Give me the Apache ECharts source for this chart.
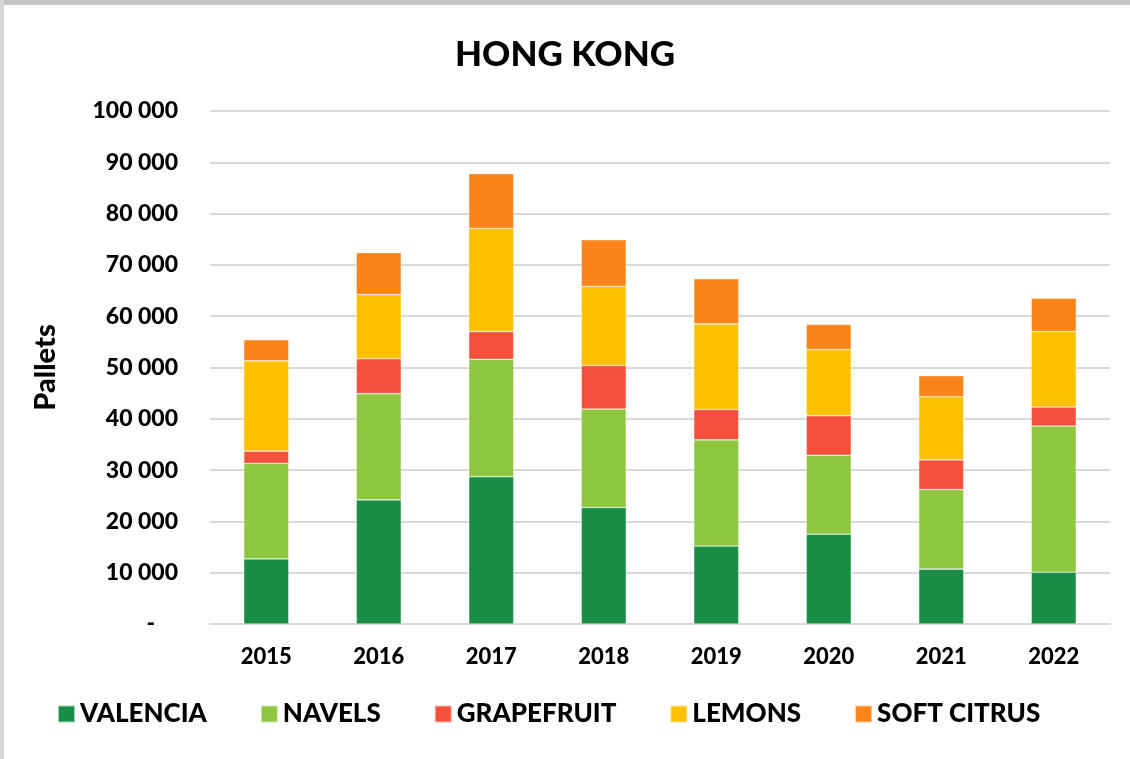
<!DOCTYPE html>
<html>
<head>
<meta charset="utf-8">
<script src="https://cdn.jsdelivr.net/npm/echarts@6/dist/echarts.min.js"></script>
<style>
  html, body { margin: 0; padding: 0; background: #fff; }
  #chart { position: absolute; left: 0; top: 0; width: 1130px; height: 759px; }
  .edgeTop { position: absolute; left: 0; top: 0; width: 1130px; height: 5px; background: #c3c3c3; }
  .edgeLeft { position: absolute; left: 0; top: 0; width: 4px; height: 759px; background: #d6d6d6; }
</style>
</head>
<body>
<div id="chart"></div>
<div class="edgeTop"></div>
<div class="edgeLeft"></div>
<script>
var years = ['2015', '2016', '2017', '2018', '2019', '2020', '2021', '2022'];
var valencia   = [12700, 24200, 28700, 22700, 15200, 17500, 10700, 10100];
var navels     = [18600, 20700, 22900, 19200, 20700, 15400, 15500, 28500];
var grapefruit = [2400, 6800, 5400, 8500, 5900, 7700, 5800, 3700];
var lemons     = [17600, 12500, 20100, 15400, 16700, 12900, 12300, 14700];
var softCitrus = [4100, 8200, 10700, 9100, 8800, 4900, 4100, 6500];

var seriesNames = ['VALENCIA', 'NAVELS', 'GRAPEFRUIT', 'LEMONS', 'SOFT CITRUS'];
var seriesData = [valencia, navels, grapefruit, lemons, softCitrus];
var colors = ['#178d45', '#8dc63f', '#f4503c', '#ffc000', '#fb8419'];

var font = 'Lato';
var weight = 900;

function fmt(v) {
    if (v === 0) return '{z|-}';
    return String(v).replace(/\B(?=(\d{3})+(?!\d))/g, ' ');
}

var series = [];
for (var i = 0; i < seriesNames.length; i++) {
    series.push({
        name: seriesNames[i],
        type: 'bar',
        stack: 'total',
        barWidth: '40%',
        data: seriesData[i],
        itemStyle: { color: colors[i], borderColor: 'rgba(255,255,255,0.6)', borderWidth: 0.6 }
    });
}

var myChart = echarts.init(document.getElementById('chart'));
myChart.setOption({
    animation: false,
    color: colors,
    title: {
        text: 'HONG KONG',
        left: 'center',
        top: 32,
        textStyle: { fontFamily: font, fontWeight: weight, fontSize: 35, color: '#000' }
    },
    legend: {
        bottom: 27,
        left: 52,
        icon: 'rect',
        itemWidth: 17,
        itemHeight: 17,
        itemGap: 53,
        textStyle: { fontFamily: font, fontWeight: weight, fontSize: 26, color: '#000' },
        data: seriesNames
    },
    grid: { left: 210, right: 20, top: 111, bottom: 135 },
    xAxis: {
        type: 'category',
        data: years,
        axisTick: { show: false },
        axisLine: { lineStyle: { color: '#d9d9d9', width: 2 } },
        axisLabel: { fontFamily: font, fontWeight: weight, fontSize: 22, color: '#000', margin: 22 }
    },
    yAxis: {
        type: 'value',
        min: 0,
        max: 100000,
        interval: 10000,
        name: 'Pallets',
        nameLocation: 'middle',
        nameGap: 150,
        nameTextStyle: { fontFamily: font, fontWeight: weight, fontSize: 29, color: '#000' },
        axisLine: { show: false },
        axisTick: { show: false },
        splitLine: { lineStyle: { color: '#d9d9d9', width: 2 } },
        axisLabel: {
            fontFamily: font, fontWeight: weight, fontSize: 23, color: '#000', margin: 32,
            formatter: fmt,
            rich: { z: { fontFamily: font, fontWeight: weight, fontSize: 23, color: '#000', padding: [0, 23, 0, 0] } }
        }
    },
    series: series
});
</script>
</body>
</html>
